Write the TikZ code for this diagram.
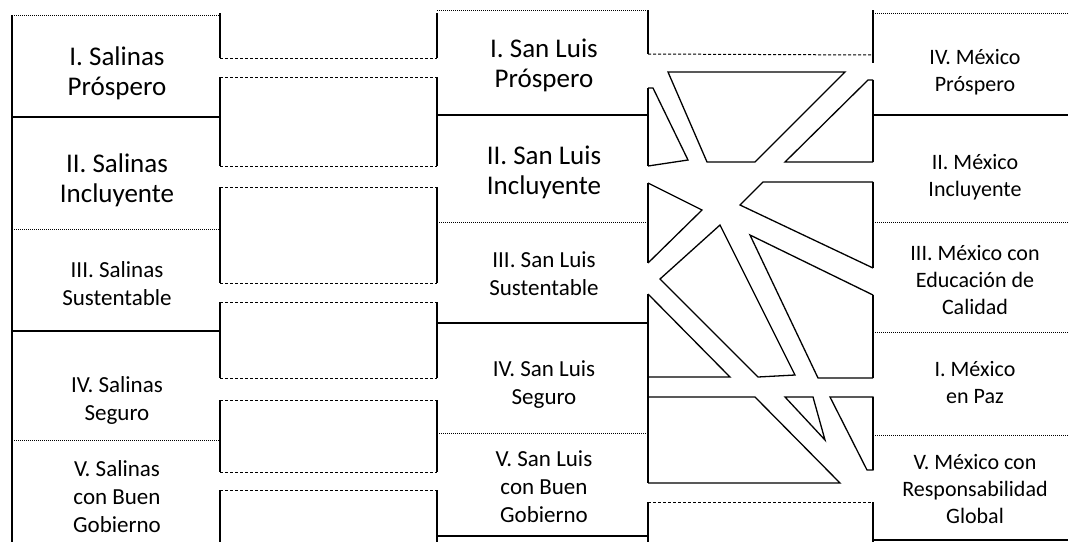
\documentclass[tikz,border=0pt]{standalone}
\usepackage{fontspec}
\setmainfont{Carlito}
\usetikzlibrary{math}

\tikzset{
  wall/.style={line width=2},
  cellrule/.style={line width=1.7},
  seam/.style={line width=1, densely dotted},
  band/.style={line width=1, densely dashed},
  flow/.style={line width=1.3},
  bigtxt/.style={align=center, inner sep=0, font=\fontsize{27}{30}\selectfont},
  smalltxt/.style={align=center, inner sep=0, font=\fontsize{23}{28}\selectfont},
  mextxt/.style={align=center, inner sep=0, font=\fontsize{22}{27}\selectfont},
}

\begin{document}
\begin{tikzpicture}[x=1pt,y=-1pt]
\tikzmath{
\xla=12; \xlb=220; \xma=437; \xmb=648; \xra=873; \xrb=1068;
}
\useasboundingbox (0,0) rectangle (1068,542);

% Salinas
\draw[wall] (\xla,15) -- (\xla,542);
\draw[seam] (\xla,15) -- (\xlb,15);
\draw[cellrule] (\xla,117) -- (\xlb,117);
\draw[seam] (\xla,229) -- (\xlb,229);
\draw[cellrule] (\xla,331) -- (\xlb,331);
\draw[seam] (\xla,440) -- (\xlb,440);

% San Luis
\draw[seam] (\xma,10) -- (\xmb,10);
\draw[cellrule] (\xma,115) -- (\xmb,115);
\draw[seam] (\xma,222) -- (\xmb,222);
\draw[cellrule] (\xma,323) -- (\xmb,323);
\draw[seam] (\xma,433) -- (\xmb,433);
\draw[cellrule] (\xma,536) -- (\xmb,536);

% Mexico
\draw[seam] (\xra,13) -- (\xrb,13);
\draw[cellrule] (\xra,115) -- (\xrb,115);
\draw[seam] (\xra,222) -- (\xrb,222);
\draw[seam] (\xra,332) -- (\xrb,332);
\draw[seam] (\xra,435) -- (\xrb,435);
\draw[cellrule] (\xra,540) -- (\xrb,540);

% Salinas -> San Luis
\foreach \ya/\yb in {13/58,77/166,187/283,302/378,400/472,490/542}{
  \draw[wall] (\xlb,\ya) -- (\xlb,\yb);
  \draw[wall] (\xma,\ya) -- (\xma,\yb);
}
\foreach \y in {58,77,166,187,283,302,378,400,472,490}
  \draw[band] (\xlb,\y) -- (\xma,\y);

% San Luis -> Mexico
\foreach \ya/\yb in {10/54,88/166,183/263,294/483,502/542}
  \draw[wall] (\xmb,\ya) -- (\xmb,\yb);
\foreach \ya/\yb in {10/63,80/162,182/268,295/378,397/470,502/542}
  \draw[wall] (\xra,\ya) -- (\xra,\yb);
\draw[band] (\xmb,54) -- (\xra,55);
\draw[flow] (668,72) -- (845,72) -- (755,162) -- (707,162) -- cycle;
\draw[flow] (\xmb,88) -- (653,88) -- (688,160) -- (\xmb,166);
\draw[flow] (\xra,80) -- (868,80) -- (785,162) -- (\xra,162);
\draw[flow] (\xmb,183) -- (702,210) -- (\xmb,263);
\draw[flow] (\xra,182) -- (763,182) -- (740,205) -- (\xra,268);
\draw[flow] (660,279) -- (720,225) -- (795,375) -- (758,377) -- cycle;
\draw[flow] (\xmb,294) -- (730,377) -- (\xmb,377);
\draw[flow] (\xra,295) -- (750,235) -- (818,378) -- (\xra,378);
\draw[flow] (\xmb,397) -- (755,397) -- (840,483) -- (\xmb,483);
\draw[flow] (785,397) -- (813,397) -- (825,440) -- cycle;
\draw[flow] (830,397) -- (\xra,397) -- (\xra,470) -- (867,470) -- cycle;
\draw[band] (\xmb,502) -- (\xra,502);

\node[bigtxt] (sal1) at (117,73) {I. Salinas\\Próspero};
\node[bigtxt] (sal2) at (117,180) {II. Salinas\\Incluyente};
\node[smalltxt] (sal3) at (117,284) {III. Salinas\\Sustentable};
\node[smalltxt] (sal4) at (117,400) {IV. Salinas\\Seguro};
\node[smalltxt] (sal5) at (117,497) {V. Salinas\\con Buen\\Gobierno};

\node[bigtxt] (slp1) at (544,65) {I. San Luis\\Próspero};
\node[bigtxt] (slp2) at (544,172) {II. San Luis\\Incluyente};
\node[smalltxt] (slp3) at (544,274) {III. San Luis\\Sustentable};
\node[smalltxt] (slp4) at (544,385) {IV. San Luis\\Seguro};
\node[smalltxt] (slp5) at (544,487) {V. San Luis\\con Buen\\Gobierno};

\node[mextxt] (mex1) at (975,72) {IV. México\\Próspero};
\node[mextxt] (mex2) at (975,177) {II. México\\Incluyente};
\node[mextxt] (mex3) at (975,280) {III. México con\\Educación de\\Calidad};
\node[mextxt] (mex4) at (975,383) {I. México\\en Paz};
\node[mextxt] (mex5) at (975,489) {V. México con\\Responsabilidad\\Global};

\end{tikzpicture}
\end{document}
